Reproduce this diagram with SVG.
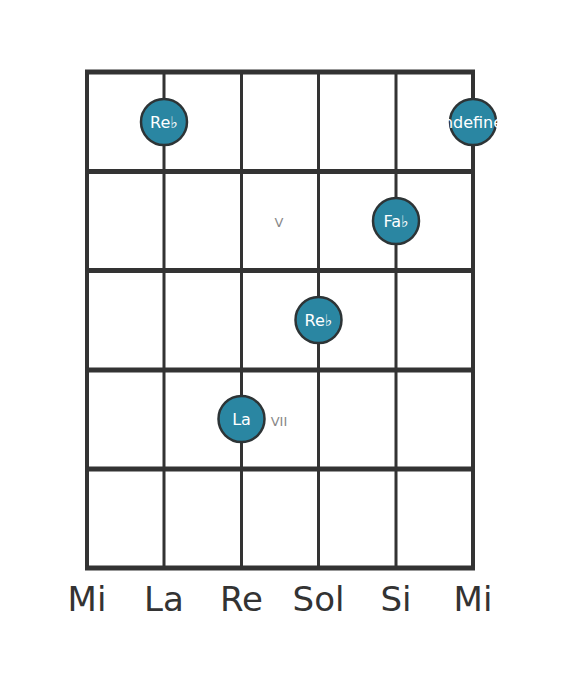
<svg xmlns="http://www.w3.org/2000/svg" width="582" height="682" viewBox="0 0 582 682">
<style>
.fret{stroke:#333;stroke-width:5;}
.str{stroke:#333;stroke-width:3;}
.dot circle{fill:#2a86a2;stroke:#2d3436;stroke-width:2.5;}
.dot text{fill:#fff;font-family:"DejaVu Sans",sans-serif;font-size:16px;text-anchor:middle;dominant-baseline:central;}
.pos{fill:#888;font-family:"DejaVu Sans",sans-serif;font-size:13px;text-anchor:middle;dominant-baseline:central;}
.name{fill:#333;font-family:"DejaVu Sans",sans-serif;font-size:34px;text-anchor:middle;}
</style>
<rect width="582" height="682" fill="#fff"/>
<g id="grid">
<line class="str" x1="87" y1="72" x2="87" y2="568" style="stroke-width:4"/>
<line class="str" x1="164" y1="72" x2="164" y2="568"/>
<line class="str" x1="241.5" y1="72" x2="241.5" y2="568"/>
<line class="str" x1="318.5" y1="72" x2="318.5" y2="568"/>
<line class="str" x1="396" y1="72" x2="396" y2="568"/>
<line class="str" x1="473" y1="72" x2="473" y2="568" style="stroke-width:4"/>
<line class="fret" x1="85" y1="72" x2="475" y2="72"/>
<line class="fret" x1="85" y1="171.5" x2="475" y2="171.5"/>
<line class="fret" x1="85" y1="270.5" x2="475" y2="270.5"/>
<line class="fret" x1="85" y1="370" x2="475" y2="370"/>
<line class="fret" x1="85" y1="469" x2="475" y2="469"/>
<line class="fret" x1="85" y1="568" x2="475" y2="568"/>
</g>
<text class="pos" x="279" y="222">V</text>
<text class="pos" x="279" y="421">VII</text>
<g id="n1" class="dot"><circle cx="164" cy="122" r="23"/><text x="164" y="122">Re♭</text></g>
<g id="n2" class="dot"><circle cx="473" cy="122" r="23"/><text x="473" y="122">undefined</text></g>
<g id="n3" class="dot"><circle cx="396" cy="221" r="23"/><text x="396" y="221">Fa♭</text></g>
<g id="n4" class="dot"><circle cx="318.5" cy="320" r="23"/><text x="318.5" y="320">Re♭</text></g>
<g id="n5" class="dot"><circle cx="241.5" cy="419" r="23"/><text x="241.5" y="419">La</text></g>
<g id="names">
<text class="name" x="87" y="611">Mi</text>
<text class="name" x="164" y="611">La</text>
<text class="name" x="241.5" y="611">Re</text>
<text class="name" x="318.5" y="611">Sol</text>
<text class="name" x="396" y="611">Si</text>
<text class="name" x="473" y="611">Mi</text>
</g>
</svg>
